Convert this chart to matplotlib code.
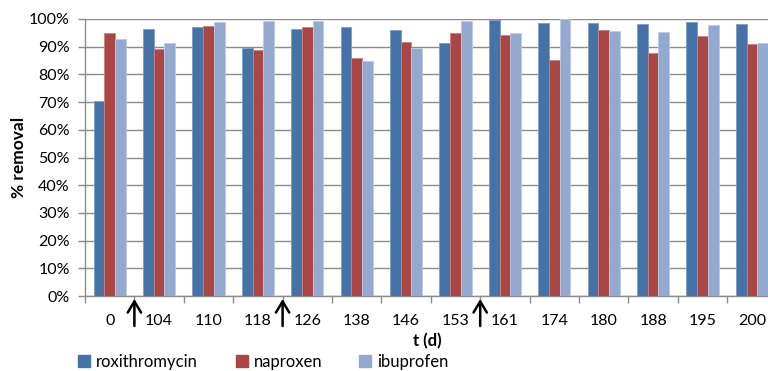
import matplotlib
matplotlib.use("Agg")
import matplotlib.pyplot as plt
import numpy as np
from matplotlib.ticker import FuncFormatter, FixedLocator
from matplotlib.patches import Patch

plt.rcParams['font.family'] = ['Lato', 'DejaVu Sans']

days = ['0', '104', '110', '118', '126', '138', '146', '153', '161', '174', '180', '188', '195', '200']
roxithromycin = [70.3, 96.5, 97.2, 89.6, 96.4, 97.0, 95.9, 91.2, 99.8, 98.6, 98.6, 98.3, 98.9, 98.2]
naproxen = [94.8, 89.2, 97.4, 88.7, 97.2, 85.8, 91.8, 94.8, 94.1, 85.2, 96.0, 87.6, 94.0, 90.9]
ibuprofen = [92.8, 91.3, 98.9, 99.3, 99.2, 84.7, 89.6, 99.3, 94.8, 99.9, 95.8, 95.2, 98.0, 91.3]
series_names = ['roxithromycin', 'naproxen', 'ibuprofen']
arrow_after = ['0', '118', '153']  # arrows placed after these sampling days

colors = ['#4572A7', '#AA4643', '#93A9CF']
edges = ['#7E9CC4', '#C98280', '#BCCBE4']

fig = plt.figure(figsize=(7.68, 3.71), dpi=100)
ax = fig.add_axes([85/768, 1-296/371, (776.6-85)/768, (296-19)/371])

x = np.arange(len(days))
w = 0.217
for i, (vals, c, e) in enumerate(zip([roxithromycin, naproxen, ibuprofen], colors, edges)):
    ax.bar(x + (i-1)*w, np.array(vals)/100, width=w, color=c, edgecolor=e, linewidth=0.6, zorder=3)

ax.set_xlim(-0.5, len(days)-0.5)
ax.set_ylim(0, 1.0)
ax.yaxis.set_major_locator(FixedLocator(np.arange(0, 1.01, 0.1)))
ax.yaxis.set_major_formatter(FuncFormatter(lambda v, p: f"{int(round(v*100))}%"))
ax.grid(axis='y', color='#8C8C8C', linewidth=1.0, zorder=0)
ax.set_axisbelow(True)

ax.set_xticks(x)
ax.set_xticklabels(days)
ax.set_xticks(np.arange(-0.5, len(days), 1.0), minor=True)
ax.tick_params(axis='x', which='major', length=0, pad=13, labelsize=11.5, colors='black')
ax.tick_params(axis='x', which='minor', length=5, width=1, color='#8C8C8C', direction='out')
ax.tick_params(axis='y', length=5, width=1, color='#8C8C8C', pad=6, labelsize=11.5)

for s in ['top', 'right']:
    ax.spines[s].set_visible(False)
for s in ['left', 'bottom']:
    ax.spines[s].set_color('#8C8C8C')
    ax.spines[s].set_linewidth(1)

ax.set_xlabel('t (d)', fontweight='bold', fontsize=12, va='center')
ax.xaxis.set_label_coords((427-85)/(776.6-85), -(341-296)/277)
ax.set_ylabel('% removal', fontweight='bold', fontsize=12.5, va='center')
ax.yaxis.set_label_coords(-(85-19)/(776.6-85), 0.5)

for d in arrow_after:
    xa = days.index(d) + 0.5
    ax.annotate('', xy=(xa, -(299-296)/277), xytext=(xa, -(326-296)/277),
                xycoords=('data', 'axes fraction'), textcoords=('data', 'axes fraction'),
                arrowprops=dict(arrowstyle='->,head_length=0.5,head_width=0.3', color='black', lw=1.8,
                                mutation_scale=16, shrinkA=0, shrinkB=0),
                annotation_clip=False)

leg_x = [78, 236, 359]
for name, c, lx in zip(series_names, colors, leg_x):
    fig.legend(handles=[Patch(facecolor=c, edgecolor=c)], labels=[name],
               loc='center left', bbox_to_anchor=(lx/768, 1-362/371),
               frameon=False, fontsize=12, handlelength=0.7, handleheight=0.7,
               handletextpad=0.4, borderpad=0, borderaxespad=0)

fig.savefig('out.png', dpi=100)
